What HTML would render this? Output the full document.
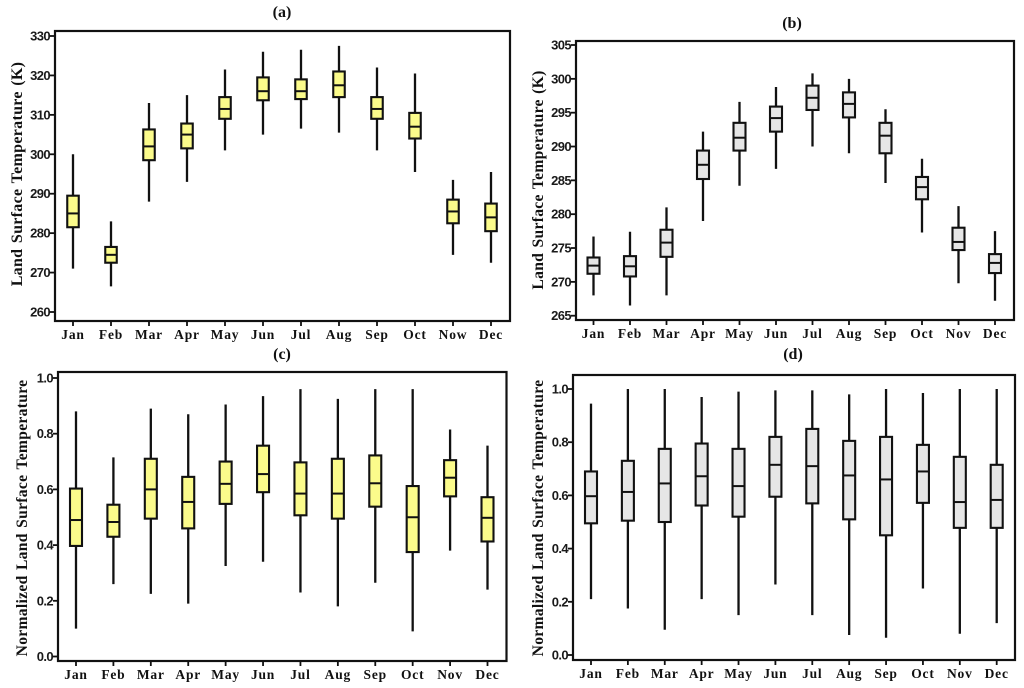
<!DOCTYPE html>
<html lang="en">
<head>
<meta charset="utf-8">
<title>Land Surface Temperature Box Plots</title>
<style>
html,body{margin:0;padding:0;background:#fff;width:1024px;height:688px;overflow:hidden}
svg{display:block}
.tick-label{font-family:"Liberation Sans",sans-serif;font-weight:bold;font-size:13px;fill:#1a1a1a;letter-spacing:-.6px}
.month-label{font-family:"Liberation Serif",serif;font-weight:bold;font-size:13.5px;fill:#111;letter-spacing:.8px}
.panel-title{font-family:"Liberation Serif",serif;font-weight:bold;font-size:16px;fill:#111}
.axis-title{font-family:"Liberation Serif",serif;font-weight:bold;fill:#111}
</style>
</head>
<body>
<svg id="chart" xmlns="http://www.w3.org/2000/svg" width="1024" height="688" viewBox="0 0 1024 688"></svg>
<script>
// Panel (a) values: whisker low, Q1, median, Q3, whisker high
var monthsA = ["Jan","Feb","Mar","Apr","May","Jun","Jul","Aug","Sep","Oct","Now","Dec"];
var lowA = [271,266.5,288,293,301,305,306.5,305.5,301,295.5,274.5,272.5];
var q1A = [281.5,272.5,298.5,301.5,309,313.7,314,314.5,309,304,282.5,280.5];
var medA = [285,274.5,302,305,311.5,316,316,317.5,311.5,307,285.5,284];
var q3A = [289.5,276.5,306.3,307.8,314.5,319.5,319,321,314.5,310.5,288.5,287.5];
var highA = [300,283,313,315,321.5,326,326.5,327.5,322,320.5,293.5,295.5];
var ticksA = [260,270,280,290,300,310,320,330];

// Panel (b)
var monthsB = ["Jan","Feb","Mar","Apr","May","Jun","Jul","Aug","Sep","Oct","Nov","Dec"];
var lowB = [268,266.5,268,279,284.2,286.7,290,289,284.6,277.3,269.8,267.2];
var q1B = [271.2,270.8,273.7,285.2,289.4,292.2,295.4,294.3,289,282.2,274.7,271.3];
var medB = [272.4,272.3,275.8,287.3,291.3,294.2,297.2,296.3,291.6,284,275.9,272.8];
var q3B = [273.6,273.8,277.7,289.4,293.5,295.9,299,298,293.5,285.5,278,274.1];
var highB = [276.7,277.4,281,292.2,296.6,298.8,300.8,300,295.5,288.2,281.2,277.5];
var ticksB = [265,270,275,280,285,290,295,300,305];

// Panel (c)
var monthsC = ["Jan","Feb","Mar","Apr","May","Jun","Jul","Aug","Sep","Oct","Nov","Dec"];
var lowC = [0.10,0.26,0.225,0.19,0.325,0.34,0.23,0.18,0.265,0.09,0.38,0.24];
var q1C = [0.397,0.43,0.495,0.46,0.548,0.59,0.507,0.495,0.538,0.375,0.575,0.413];
var medC = [0.49,0.483,0.60,0.555,0.62,0.655,0.585,0.585,0.622,0.50,0.642,0.498];
var q3C = [0.603,0.545,0.71,0.645,0.70,0.757,0.697,0.71,0.722,0.612,0.705,0.572];
var highC = [0.88,0.715,0.89,0.87,0.905,0.935,0.96,0.925,0.96,0.96,0.815,0.757];
var ticksC = [0.0,0.2,0.4,0.6,0.8,1.0];

// Panel (d)
var monthsD = ["Jan","Feb","Mar","Apr","May","Jun","Jul","Aug","Sep","Oct","Nov","Dec"];
var lowD = [0.21,0.175,0.095,0.21,0.15,0.265,0.15,0.075,0.065,0.25,0.08,0.12];
var q1D = [0.495,0.505,0.50,0.562,0.52,0.595,0.57,0.51,0.45,0.572,0.478,0.478];
var medD = [0.597,0.613,0.645,0.672,0.635,0.715,0.71,0.675,0.66,0.69,0.575,0.583];
var q3D = [0.69,0.73,0.775,0.795,0.775,0.82,0.85,0.805,0.82,0.79,0.745,0.715];
var highD = [0.945,1.0,1.0,0.97,0.99,0.995,0.995,0.98,1.0,0.985,1.0,1.0];
var ticksD = [0.0,0.2,0.4,0.6,0.8,1.0];

var NS = "http://www.w3.org/2000/svg";
var svg = document.getElementById("chart");

function mk(parent, tag, attrs, text) {
  var el = document.createElementNS(NS, tag);
  for (var k in attrs) el.setAttribute(k, attrs[k]);
  if (text !== undefined) el.textContent = text;
  parent.appendChild(el);
  return el;
}

function linear(d0, d1, r0, r1) {
  return function (v) { return r0 + (v - d0) * (r1 - r0) / (d1 - d0); };
}

function drawPanel(p) {
  var g = mk(svg, "g", {});
  
  

  var x = linear(0, p.months.length - 1, p.x0, p.x1);
  var y = linear(p.ticks[0], p.ticks[p.ticks.length - 1], p.y0, p.y1);
  var hw = p.boxWidth / 2;

  var title = mk(g, "text", {x: p.titleX, y: p.titleY, "text-anchor": "middle", "class": "panel-title"}, "(" + p.id + ")");
  
  

  var frame = mk(g, "rect", {x: p.left, y: p.top, width: p.right - p.left, height: p.bottom - p.top, fill: "#fff", stroke: "#111", "stroke-width": 2.2});
  
  

  p.ticks.forEach(function (t) {
    var mark = mk(g, "line", {x1: p.left - 5, x2: p.left, y1: y(t), y2: y(t), stroke: "#111", "stroke-width": 1.8});
    
    
    var lab = mk(g, "text", {x: p.left - 5, y: y(t) + 4.5, "text-anchor": "end", "class": "tick-label"}, t.toFixed(p.decimals));
    
    
  });

  p.months.forEach(function (m, i) {
    var cx = x(i);
    var mark = mk(g, "line", {x1: cx, x2: cx, y1: p.bottom, y2: p.bottom + 5, stroke: "#111", "stroke-width": 1.8});
    
    
    var lab = mk(g, "text", {x: cx, y: p.bottom + 18, "text-anchor": "middle", "class": "month-label"}, m);
    
    

    var whisker = mk(g, "line", {x1: cx, x2: cx, y1: y(p.low[i]), y2: y(p.high[i]), stroke: "#111", "stroke-width": 2.3});
    
    
    var box = mk(g, "rect", {x: cx - hw, y: y(p.q3[i]), width: p.boxWidth, height: y(p.q1[i]) - y(p.q3[i]), fill: p.fill, stroke: "#111", "stroke-width": 2.1});
    
    
    var med = mk(g, "line", {x1: cx - hw, x2: cx + hw, y1: y(p.med[i]), y2: y(p.med[i]), stroke: "#111", "stroke-width": 2});
    
    
  });

  var yt = mk(g, "text", {transform: "translate(" + p.yTitleX + " " + p.yTitleY + ") rotate(-90)", "text-anchor": "middle", "class": "axis-title", "font-size": p.yTitleSize, "letter-spacing": 0.3, "word-spacing": 1.2}, p.yTitle);
  
  
}

drawPanel({id: "a", months: monthsA, low: lowA, q1: q1A, med: medA, q3: q3A, high: highA, ticks: ticksA, decimals: 0,
  left: 55, right: 510, top: 31, bottom: 321, x0: 73, x1: 491, y0: 312, y1: 36, fill: "#fbfb8b", boxWidth: 11.5,
  titleX: 282, titleY: 17, yTitle: "Land Surface Temperature (K)", yTitleX: 22, yTitleY: 174, yTitleSize: 16});
drawPanel({id: "b", months: monthsB, low: lowB, q1: q1B, med: medB, q3: q3B, high: highB, ticks: ticksB, decimals: 0,
  left: 576, right: 1014, top: 41, bottom: 320, x0: 593.5, x1: 995, y0: 315.7, y1: 45, fill: "#e6e6e6", boxWidth: 12,
  titleX: 792, titleY: 28, yTitle: "Land Surface Temperature (K)", yTitleX: 543, yTitleY: 180, yTitleSize: 15.6});
drawPanel({id: "c", months: monthsC, low: lowC, q1: q1C, med: medC, q3: q3C, high: highC, ticks: ticksC, decimals: 1,
  left: 58, right: 506.5, top: 372, bottom: 661, x0: 76, x1: 487.5, y0: 656.5, y1: 378, fill: "#fbfb8b", boxWidth: 12,
  titleX: 282, titleY: 359, yTitle: "Normalized Land Surface Temperature", yTitleX: 27, yTitleY: 518, yTitleSize: 15.6});
drawPanel({id: "d", months: monthsD, low: lowD, q1: q1D, med: medD, q3: q3D, high: highD, ticks: ticksD, decimals: 1,
  left: 573, right: 1015, top: 375, bottom: 660, x0: 591, x1: 996.7, y0: 655, y1: 389, fill: "#e6e6e6", boxWidth: 12,
  titleX: 793, titleY: 359, yTitle: "Normalized Land Surface Temperature", yTitleX: 543, yTitleY: 518, yTitleSize: 15.6});
</script>
</body>
</html>
